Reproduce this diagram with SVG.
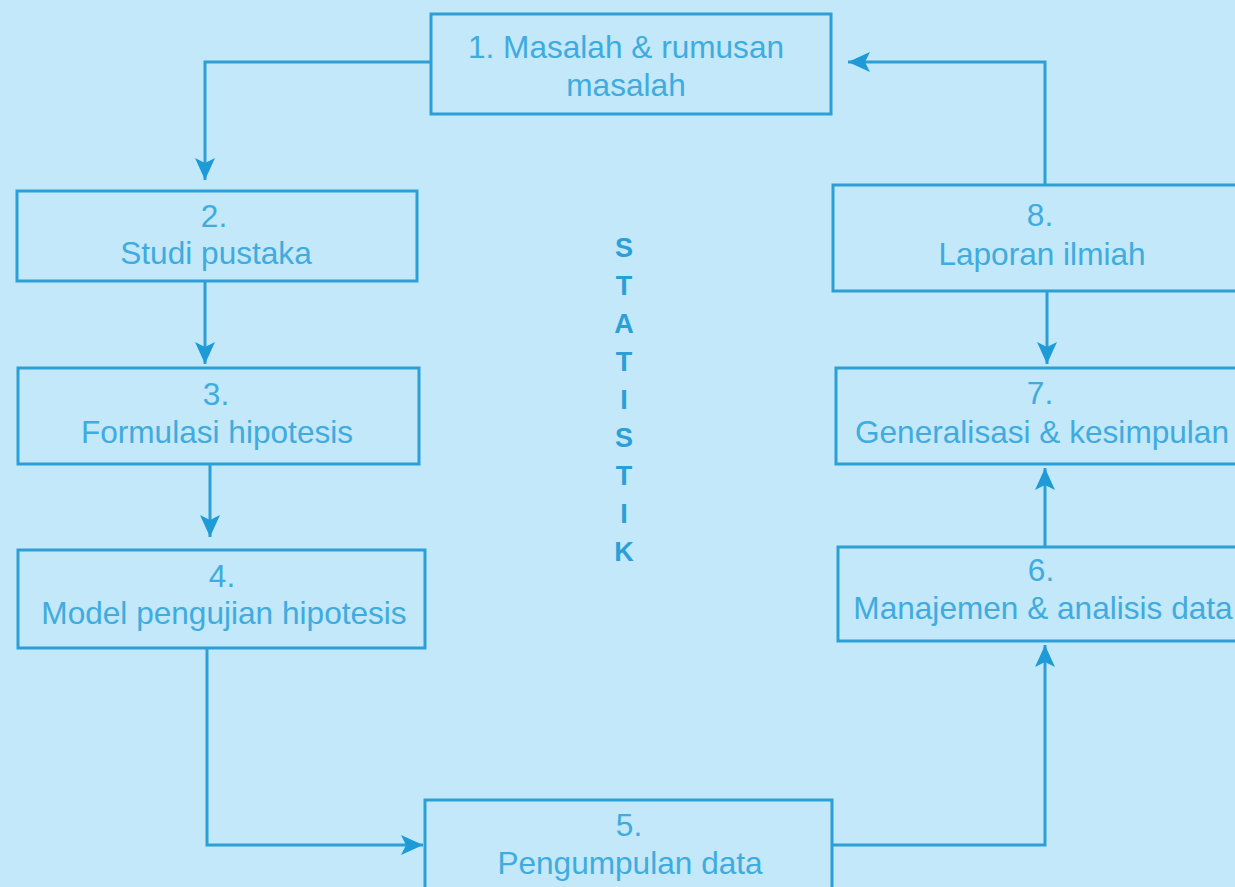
<svg xmlns="http://www.w3.org/2000/svg" width="1235" height="887" viewBox="0 0 1235 887">
<style>
.box{fill:#c2e8f9;stroke:#2c9fd6;stroke-width:3}
.t{font-family:"Liberation Sans",Arial,sans-serif;font-size:31.6px;fill:#40abde;text-anchor:middle}
.v{font-family:"Liberation Sans",Arial,sans-serif;font-size:27px;font-weight:bold;fill:#2a9fd8;text-anchor:middle}
.c{fill:none;stroke:#2c9fd6;stroke-width:3}
</style>
<defs>
<marker id="ah" markerUnits="userSpaceOnUse" markerWidth="24" markerHeight="20" refX="22" refY="10" orient="auto">
<path d="M0,0 L22,10 L0,20 L5,10 z" fill="#1e9ad6"/>
</marker>
</defs>
<rect width="1235" height="887" fill="#c2e8f9"/>
<g id="connectors">
<path class="c" d="M431,62 H205 V180" marker-end="url(#ah)"/>
<path class="c" d="M205,281 V364" marker-end="url(#ah)"/>
<path class="c" d="M210,464 V537" marker-end="url(#ah)"/>
<path class="c" d="M207,648 V845 H423" marker-end="url(#ah)"/>
<path class="c" d="M832,845 H1045 V645" marker-end="url(#ah)"/>
<path class="c" d="M1045,547 V468" marker-end="url(#ah)"/>
<path class="c" d="M1047,291 V364" marker-end="url(#ah)"/>
<path class="c" d="M1045,185 V62 H848" marker-end="url(#ah)"/>
</g>
<g id="node1">
<rect class="box" x="431" y="14" width="400" height="100"/>
<text class="t" x="626" y="58">1. Masalah &amp; rumusan</text>
<text class="t" x="626" y="96">masalah</text>
</g>
<g id="node2">
<rect class="box" x="17" y="191" width="400" height="90"/>
<text class="t" x="214" y="227">2.</text>
<text class="t" x="216" y="264">Studi pustaka</text>
</g>
<g id="node3">
<rect class="box" x="18" y="368" width="401" height="96"/>
<text class="t" x="216" y="405">3.</text>
<text class="t" x="217" y="443">Formulasi hipotesis</text>
</g>
<g id="node4">
<rect class="box" x="18" y="550" width="407" height="98"/>
<text class="t" x="222" y="587">4.</text>
<text class="t" x="224" y="624">Model pengujian hipotesis</text>
</g>
<g id="node5">
<rect class="box" x="425" y="800" width="407" height="100"/>
<text class="t" x="629" y="836">5.</text>
<text class="t" x="630" y="874">Pengumpulan data</text>
</g>
<g id="node6">
<rect class="box" x="838" y="547" width="412" height="94"/>
<text class="t" x="1041" y="581">6.</text>
<text class="t" x="1043" y="619">Manajemen &amp; analisis data</text>
</g>
<g id="node7">
<rect class="box" x="836" y="368" width="414" height="96"/>
<text class="t" x="1040" y="404">7.</text>
<text class="t" x="1042" y="443">Generalisasi &amp; kesimpulan</text>
</g>
<g id="node8">
<rect class="box" x="833" y="185" width="417" height="106"/>
<text class="t" x="1040" y="226">8.</text>
<text class="t" x="1042" y="265">Laporan ilmiah</text>
</g>
<g id="statistik">
<text class="v" x="624" y="257">S</text>
<text class="v" x="624" y="295">T</text>
<text class="v" x="624" y="333">A</text>
<text class="v" x="624" y="371">T</text>
<text class="v" x="624" y="409">I</text>
<text class="v" x="624" y="447">S</text>
<text class="v" x="624" y="485">T</text>
<text class="v" x="624" y="523">I</text>
<text class="v" x="624" y="561">K</text>
</g>
</svg>
